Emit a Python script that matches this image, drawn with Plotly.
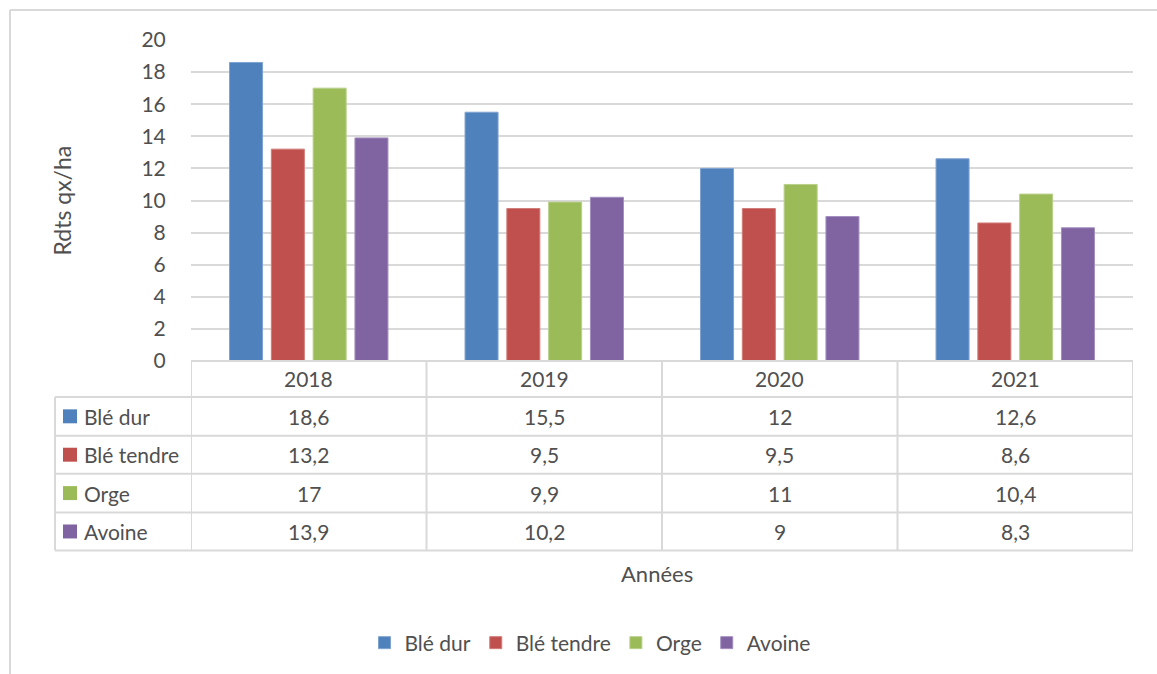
import plotly.graph_objects as go

# Rendements par culture et par année (qx/ha)
annees = ["2018", "2019", "2020", "2021"]
cultures = ["Blé dur", "Blé tendre", "Orge", "Avoine"]
ble_dur = [18.6, 15.5, 12, 12.6]
ble_tendre = [13.2, 9.5, 9.5, 8.6]
orge = [17, 9.9, 11, 10.4]
avoine = [13.9, 10.2, 9, 8.3]
y_ticks = list(range(0, 21, 2))

series = [ble_dur, ble_tendre, orge, avoine]
couleurs = ["#4F81BD", "#C0504D", "#9BBB59", "#8064A2"]
bordures = ["#7FA3D1", "#D17C79", "#B8D08A", "#A38FBF"]

W, H = 1157, 674
L, R, T, B = 191, 24, 40, 312
PW, PH = W - L - R, H - T - B

FONT = "Lato"
FS = 21
TXT = "#505050"
GRID = "#D9D9D9"


def px(xp):
    return (xp - L) / PW


def py(yp):
    return (H - B - yp) / PH


def fmt(v):
    return ("%g" % v).replace(".", ",")


fig = go.Figure()
for nom, vals, c, bc in zip(cultures, series, couleurs, bordures):
    fig.add_trace(go.Bar(
        x=annees, y=vals, name=nom,
        marker=dict(color=c, line=dict(color=bc, width=1)),
    ))

shapes = []
annotations = []

# cadre extérieur du graphique
shapes.append(dict(type="line", xref="paper", yref="paper",
                   x0=px(10), x1=px(W + 20), y0=py(10), y1=py(10),
                   line=dict(color=GRID, width=2)))
shapes.append(dict(type="line", xref="paper", yref="paper",
                   x0=px(10), x1=px(10), y0=py(10), y1=py(H + 20),
                   line=dict(color=GRID, width=2)))

# tableau de données sous l'axe
row_edges = [362, 398, 437, 475, 514, 552]
shapes.append(dict(type="line", xref="paper", yref="paper",
                   x0=0, x1=1, y0=py(row_edges[0]), y1=py(row_edges[0]),
                   line=dict(color=GRID, width=2)))
for ye in row_edges[1:]:
    shapes.append(dict(type="line", xref="paper", yref="paper",
                       x0=px(55), x1=1, y0=py(ye), y1=py(ye),
                       line=dict(color=GRID, width=2)))
for k in range(len(annees) + 1):
    shapes.append(dict(type="line", xref="x", yref="paper",
                       x0=k - 0.5, x1=k - 0.5, y0=py(row_edges[0]), y1=py(row_edges[-1]),
                       line=dict(color=GRID, width=2)))
shapes.append(dict(type="line", xref="paper", yref="paper",
                   x0=px(55), x1=px(55), y0=py(row_edges[1]), y1=py(row_edges[-1]),
                   line=dict(color=GRID, width=2)))

# en-têtes des années
hy = (row_edges[0] + row_edges[1]) / 2
for k, a in enumerate(annees):
    annotations.append(dict(x=k, xref="x", y=py(hy), yref="paper", text=a,
                            showarrow=False, xanchor="center", yanchor="middle",
                            font=dict(family=FONT, size=FS, color=TXT)))

# lignes du tableau : libellé + valeurs
for i, (nom, vals, c) in enumerate(zip(cultures, series, couleurs)):
    yc = (row_edges[i + 1] + row_edges[i + 2]) / 2
    shapes.append(dict(type="rect", xref="paper", yref="paper",
                       x0=px(63), x1=px(77), y0=py(yc - 7), y1=py(yc + 7),
                       fillcolor=c, line=dict(width=0)))
    annotations.append(dict(x=px(82), xref="paper", y=py(yc), yref="paper", text=nom,
                            showarrow=False, xanchor="left", yanchor="middle",
                            font=dict(family=FONT, size=FS, color=TXT)))
    for k, v in enumerate(vals):
        annotations.append(dict(x=k, xref="x", y=py(yc), yref="paper", text=fmt(v),
                                showarrow=False, xanchor="center", yanchor="middle",
                                font=dict(family=FONT, size=FS, color=TXT)))

# titres des axes
annotations.append(dict(x=px(657), xref="paper", y=py(575), yref="paper", text="Années",
                        showarrow=False, xanchor="center", yanchor="middle",
                        font=dict(family=FONT, size=22, color=TXT)))
annotations.append(dict(x=px(61), xref="paper", y=py(201), yref="paper", text="Rdts qx/ha",
                        showarrow=False, xanchor="center", yanchor="middle", textangle=-90,
                        font=dict(family=FONT, size=23, color=TXT)))

fig.update_layout(
    width=W, height=H,
    margin=dict(l=L, r=R, t=T, b=B),
    paper_bgcolor="white", plot_bgcolor="white",
    barmode="group", bargap=0.29, bargroupgap=0.21,
    font=dict(family=FONT, size=FS, color=TXT),
    shapes=shapes, annotations=annotations,
    showlegend=True,
    legend=dict(orientation="h", x=px(590), xanchor="center", y=py(643), yanchor="middle",
                font=dict(family=FONT, size=FS, color=TXT), itemwidth=30,
                traceorder="normal"),
    xaxis=dict(type="category", range=[-0.5, 3.5], showticklabels=False, showgrid=False,
               showline=False, zeroline=False, ticks=""),
    yaxis=dict(range=[0, 20], tickvals=y_ticks, showgrid=True, gridcolor=GRID, gridwidth=2,
               zeroline=False, showline=False, ticks="outside", ticklen=20,
               tickcolor="rgba(0,0,0,0)", tickfont=dict(family=FONT, size=FS, color=TXT)),
)

fig.write_html("out.html")
